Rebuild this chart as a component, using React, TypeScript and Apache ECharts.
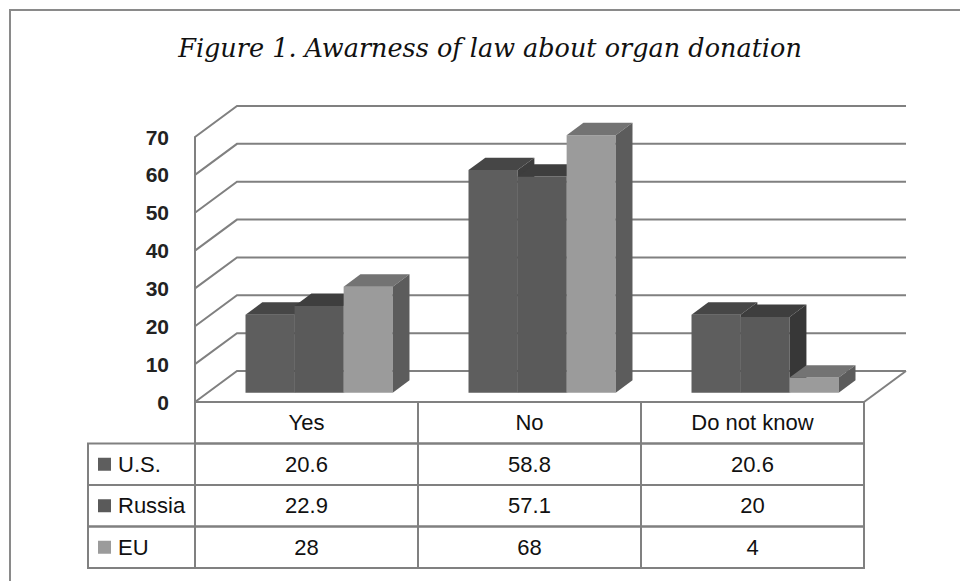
import React, { useEffect, useRef } from "react";
import * as echarts from "echarts";

// ---- data ----
const categories = ["Yes", "No", "Do not know"];
const seriesNames = ["U.S.", "Russia", "EU"];
const usValues = [20.6, 58.8, 20.6];
const russiaValues = [22.9, 57.1, 20];
const euValues = [28, 68, 4];
const yTicks = [0, 10, 20, 30, 40, 50, 60, 70];
const titleText = "Figure 1. Awarness of law about organ donation";

const valuesBySeries = [usValues, russiaValues, euValues];

// ---- styles ----
const frontColors = ["#5e5e5e", "#5a5a5a", "#9b9b9b"];
const topColors = ["#464646", "#3e3e3e", "#737373"];
const sideColors = ["#3d3d3d", "#373737", "#5c5c5c"];
const lineColor = "#808080";
const DX = 42;
const DY = -31;
const F1 = 0.3;
const F2 = 0.7;
const BAR_FRAC = 0.22;
const ROW_H = 41.5;
const LEG_W = 107;
const tableFont = '22px "Liberation Sans", Arial, sans-serif';

export default function App() {
  const ref = useRef<HTMLDivElement>(null);

  useEffect(() => {
    document.body.style.margin = "0";
    if (!ref.current) return;
    const chart = echarts.init(ref.current, null, { renderer: "svg" });

    const wallData = yTicks.map((v) => [0, v]);
    const barData: number[][] = [];
    categories.forEach((_, c) => {
      valuesBySeries.forEach((vals, s) => barData.push([c, s, vals[c]]));
    });
    const tableData: number[][] = [];
    categories.forEach((_, c) => {
      tableData.push([c, -1, 0]);
      valuesBySeries.forEach((vals, s) => tableData.push([c, s, vals[c]]));
    });

    const option: any = {
      animation: false,
      backgroundColor: "#ffffff",
      grid: { left: 195, right: 96, top: 137, bottom: 179, containLabel: false },
      xAxis: {
        type: "category",
        data: categories,
        axisLine: { show: true, lineStyle: { color: lineColor, width: 2 } },
        axisTick: { show: false },
        axisLabel: { show: false },
        splitLine: { show: false },
      },
      yAxis: {
        type: "value",
        min: 0,
        max: 70,
        interval: 10,
        axisLine: { show: true, lineStyle: { color: lineColor, width: 2 } },
        axisTick: { show: false },
        splitLine: { show: false },
        axisLabel: {
          margin: 26,
          fontSize: 21,
          fontWeight: "bold",
          fontFamily: '"Liberation Sans", Arial, sans-serif',
          color: "#222",
          padding: [8, 0, 0, 0],
        },
      },
      graphic: [
        {
          type: "polyline",
          shape: { points: [[10, 581], [10, 10], [960, 10]] },
          style: { stroke: "#8a8a8a", lineWidth: 2, fill: "none" },
        },
        {
          type: "text",
          x: 490,
          y: 48,
          style: {
            text: titleText,
            font: 'italic 25.5px "DejaVu Serif", serif',
            fill: "#111",
            align: "center",
            verticalAlign: "middle",
          },
        },
      ],
      series: [
        {
          type: "custom",
          name: "walls",
          clip: false,
          z: 1,
          encode: { x: 0, y: 1 },
          data: wallData,
          renderItem: (params: any, api: any) => {
            const v = api.value(1);
            const bw = api.size([1, 0])[0];
            const p0 = api.coord([0, v]);
            const p2 = api.coord([2, v]);
            const L = p0[0] - bw / 2;
            const R = p2[0] + bw / 2;
            const y = p0[1];
            const children: any[] = [
              {
                type: "polyline",
                shape: { points: [[L, y], [L + DX, y + DY], [R + DX, y + DY]] },
                style: { stroke: lineColor, lineWidth: 2, fill: "none" },
              },
            ];
            if (v === 0) {
              children.push({
                type: "line",
                shape: { x1: R, y1: y, x2: R + DX, y2: y + DY },
                style: { stroke: lineColor, lineWidth: 2 },
              });
            }
            return { type: "group", children };
          },
        },
        {
          type: "custom",
          name: "bars",
          clip: false,
          z: 2,
          encode: { x: 0, y: 2 },
          data: barData,
          renderItem: (params: any, api: any) => {
            const c = api.value(0);
            const s = api.value(1);
            const v = api.value(2);
            const bw = api.size([1, 0])[0];
            const w = bw * BAR_FRAC;
            const base = api.coord([c, 0]);
            const top = api.coord([c, v]);
            const x0 = base[0] - (3 * w) / 2 + s * w;
            const yb = base[1];
            const yt = top[1];
            const fx = F1 * DX, fy = F1 * DY, bx = F2 * DX, by = F2 * DY;
            return {
              type: "group",
              children: [
                {
                  type: "rect",
                  shape: { x: x0 + fx, y: yt + fy, width: w, height: yb - yt },
                  style: { fill: frontColors[s] },
                },
                {
                  type: "polygon",
                  shape: {
                    points: [
                      [x0 + fx, yt + fy],
                      [x0 + w + fx, yt + fy],
                      [x0 + w + bx, yt + by],
                      [x0 + bx, yt + by],
                    ],
                  },
                  style: { fill: topColors[s] },
                },
                {
                  type: "polygon",
                  shape: {
                    points: [
                      [x0 + w + fx, yt + fy],
                      [x0 + w + bx, yt + by],
                      [x0 + w + bx, yb + by],
                      [x0 + w + fx, yb + fy],
                    ],
                  },
                  style: { fill: sideColors[s] },
                },
              ],
            };
          },
        },
        {
          type: "custom",
          name: "table",
          clip: false,
          z: 3,
          encode: { x: 0, y: 2 },
          data: tableData,
          renderItem: (params: any, api: any) => {
            const c = api.value(0);
            const s = api.value(1);
            const bw = api.size([1, 0])[0];
            const p = api.coord([c, 0]);
            const left = p[0] - bw / 2;
            const y0 = p[1];
            const rowTop = y0 + (s + 1) * ROW_H;
            const label = s < 0 ? categories[c] : String(valuesBySeries[s][c]);
            const children: any[] = [
              {
                type: "rect",
                shape: { x: left, y: rowTop, width: bw, height: ROW_H },
                style: { fill: "none", stroke: lineColor, lineWidth: 2 },
              },
              {
                type: "text",
                x: left + bw / 2,
                y: rowTop + ROW_H / 2,
                style: {
                  text: label,
                  font: tableFont,
                  fill: "#111",
                  align: "center",
                  verticalAlign: "middle",
                },
              },
            ];
            if (c === 0 && s >= 0) {
              const lx = left - LEG_W;
              children.push(
                {
                  type: "rect",
                  shape: { x: lx, y: rowTop, width: LEG_W, height: ROW_H },
                  style: { fill: "none", stroke: lineColor, lineWidth: 2 },
                },
                {
                  type: "rect",
                  shape: { x: lx + 10, y: rowTop + ROW_H / 2 - 6.5, width: 13, height: 13 },
                  style: { fill: frontColors[s] },
                },
                {
                  type: "text",
                  x: lx + 30,
                  y: rowTop + ROW_H / 2,
                  style: {
                    text: seriesNames[s],
                    font: tableFont,
                    fill: "#111",
                    align: "left",
                    verticalAlign: "middle",
                  },
                }
              );
            }
            return { type: "group", children };
          },
        },
      ],
    };

    chart.setOption(option);
    return () => chart.dispose();
  }, []);

  return (
    <div
      ref={ref}
      style={{ position: "absolute", left: 0, top: 0, width: 960, height: 581 }}
    />
  );
}
